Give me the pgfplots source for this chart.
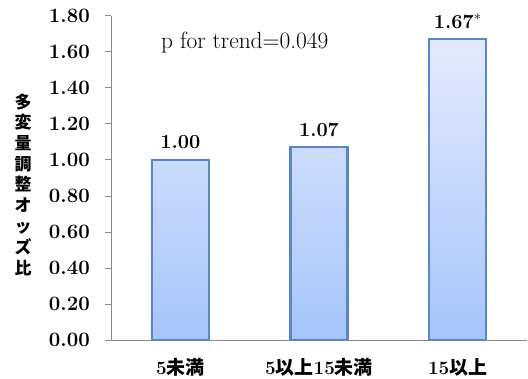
\documentclass[border=0pt]{standalone}
\usepackage{fontspec}
\usepackage{pgfplots}
\pgfplotsset{compat=1.18}
\newfontfamily\cjk{Noto Sans CJK JP}
\definecolor{barEdge}{HTML}{5A86C8}
\definecolor{barTop}{HTML}{E2EBFD}
\definecolor{barBottom}{HTML}{A6C4FB}
\definecolor{axisGrey}{HTML}{8C8C8C}
\newcommand{\cjkb}[1]{{\cjk\bfseries #1}}
\begin{document}
\begin{tikzpicture}
\useasboundingbox (0,0) rectangle (528bp,379bp);
\begin{axis}[
  at={(111bp,39bp)}, anchor=south west,
  scale only axis,
  width=416bp, height=324bp,
  ybar, bar width=57bp,
  xmin=-0.5, xmax=2.5,
  ymin=0, ymax=1.8,
  axis x line*=bottom, axis y line*=left,
  axis line style={draw=axisGrey, line width=1pt, -},
  tick style={draw=axisGrey, line width=1pt},
  tick align=outside,
  major tick length=6bp,
  ytick={0,0.2,...,1.81},
  yticklabel style={/pgf/number format/.cd, fixed, fixed zerofill, precision=2, /tikz/.cd,
    font=\fontsize{20.5}{24}\selectfont\bfseries, inner sep=0pt, xshift=-15bp},
  /pgf/number format/assume math mode=true,
  xtick={0,1,2},
  xticklabels={{\bfseries 5}\cjkb{未満}, {\bfseries 5}\cjkb{以上}{\bfseries 15}\cjkb{未満}, {\bfseries 15}\cjkb{以上}},
  x tick style={draw=none},
  xticklabel style={font=\fontsize{19}{22}\selectfont, inner sep=0pt, yshift=-12bp},
  extra x ticks={-0.5,0.5,1.5,2.5},
  extra x tick labels={},
  extra x tick style={tick style={draw=axisGrey, line width=1pt}, major tick length=6bp},
  ylabel={\cjk\bfseries\fontsize{17}{20.8}\selectfont
    \begin{tabular}{@{}c@{}}多\\変\\量\\調\\整\\オ\\ッ\\ズ\\比\end{tabular}},
  ylabel style={rotate=-90, at={(axis description cs:0,0.5)}, anchor=center, xshift=-88bp, yshift=-9bp},
  nodes near coords,
  point meta=explicit symbolic,
  every node near coord/.style={anchor=south, inner sep=0pt, yshift=10bp,
    font=\fontsize{20}{23}\selectfont\bfseries, text=black},
  clip=false,
]
\addplot[draw=barEdge, line width=2.2pt, top color=barTop, bottom color=barBottom]
  coordinates {(0,1.00) [1.00] (1,1.07) [1.07] (2,1.67) [1.67$^{*}$]};
\node[anchor=west, font=\fontsize{23.5}{27}\selectfont, inner sep=0pt] at (axis cs:-0.14,1.65) {p for trend=0.049};
\end{axis}
\end{tikzpicture}
\end{document}
